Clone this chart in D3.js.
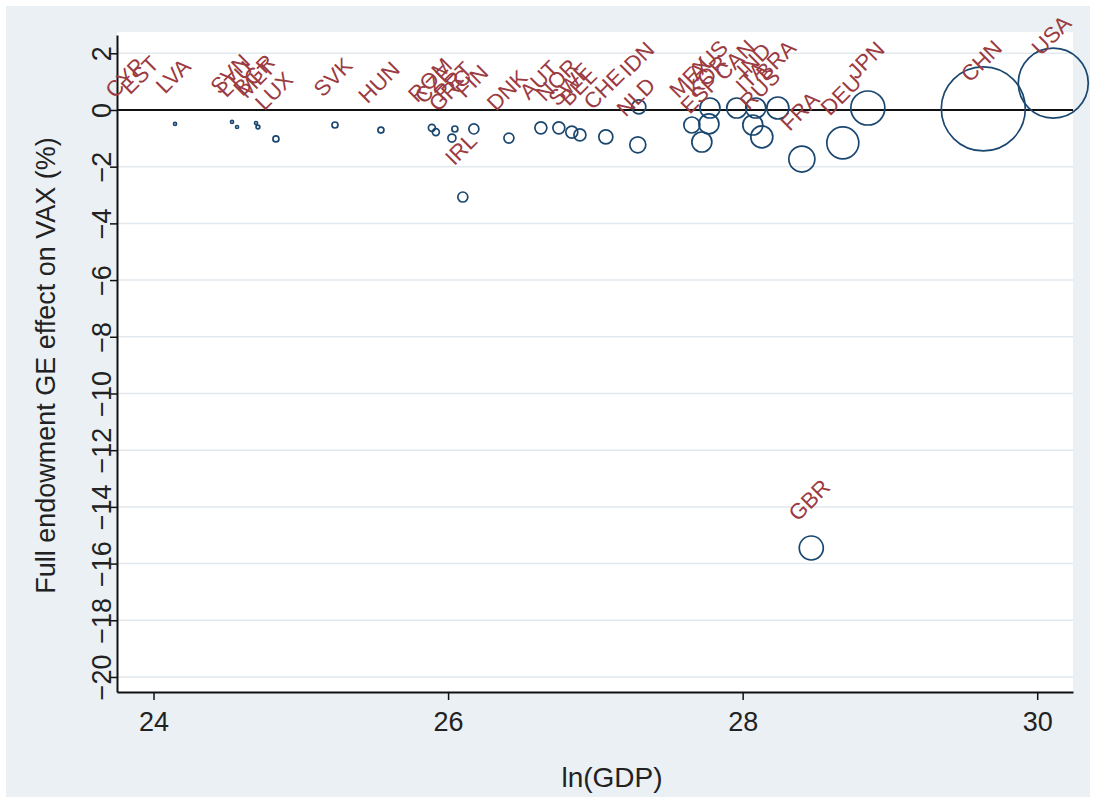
<!DOCTYPE html>
<html>
<head>
<meta charset="utf-8">
<script src="https://cdn.jsdelivr.net/npm/d3@7"></script>
<style>
  body { margin: 0; background: #fff; }
  text { font-family: Arial, "Liberation Sans", sans-serif; }
</style>
</head>
<body>
<div id="chart"></div>
<script>
// country codes, ln(GDP), GE effect on VAX (%), marker weight
var countries = ["CYP","EST","LVA","SVN","LTU","BGR","MLT","LUX","SVK","HUN","ROM","CZE","PRT","GRC","FIN","IRL","DNK",
                 "AUT","NOR","SWE","BEL","CHE","NLD","IDN","MEX","ESP","KOR","AUS","CAN","IND","ITA","RUS","BRA",
                 "FRA","GBR","DEU","JPN","CHN","USA"];
var lnGDP = [23.82,23.92,24.146,24.533,24.567,24.696,24.709,24.831,25.232,25.544,25.89,25.917,26.046,26.026,26.175,26.1,26.413,
             26.63,26.752,26.84,26.895,27.071,27.288,27.295,27.655,27.723,27.771,27.778,27.96,28.089,28.069,28.13,28.239,
             28.402,28.466,28.68,28.85,29.634,30.109];
var effect = [-0.56,-0.46,-0.49,-0.42,-0.6,-0.46,-0.6,-1.02,-0.53,-0.71,-0.63,-0.78,-0.67,-0.99,-0.67,-3.07,-0.99,
              -0.63,-0.63,-0.78,-0.88,-0.95,-1.23,0.11,-0.53,-1.13,-0.49,0.07,0.07,0.07,-0.53,-0.95,0.07,
              -1.73,-15.45,-1.16,0.07,0.04,0.95];
var weight = [0,0,0.13,0.13,0.13,0.13,0.2,0.51,0.51,0.51,0.69,0.69,0.51,0.91,1.42,1.42,1.42,
              2.04,2.04,2.04,2.04,2.78,3.63,2.78,3.63,5.67,5.67,5.67,5.67,5.67,5.67,6.86,6.86,
              9.58,8.16,14.5,16.4,100,69.4];

var xTicks = [24, 26, 28, 30];
var yTicks = [2, 0, -2, -4, -6, -8, -10, -12, -14, -16, -18, -20];

var data = countries.map((c, i) => ({name: c, x: lnGDP[i], y: effect[i], w: weight[i]}));

var width = 1096, height = 803;
var margin = ({top: 35, right: 23, bottom: 111, left: 117});

var svg = d3.select("#chart").append("svg")
    .attr("width", width)
    .attr("height", height);

var x = d3.scaleLinear()
    .domain([23.752, 30.243])
    .range([margin.left, width - margin.right]);

var y = d3.scaleLinear()
    .domain([2.645, -20.53])
    .range([margin.top, height - margin.bottom]);

var r = d3.scaleSqrt()
    .domain([0, 100])
    .range([0, 42]);

// graph region + plot region
svg.append("rect")
    .attr("x", 6).attr("y", 6)
    .attr("width", width - 12).attr("height", height - 12)
    .attr("fill", "#eaf0f3");

svg.append("rect")
    .attr("x", margin.left).attr("y", 32)
    .attr("width", width - margin.right - margin.left)
    .attr("height", height - margin.bottom - 32)
    .attr("fill", "#ffffff");

// grid lines
svg.append("g")
    .selectAll("line")
    .data(yTicks.filter(t => t !== 0))
    .join("line")
    .attr("x1", margin.left)
    .attr("x2", width - margin.right)
    .attr("y1", d => y(d))
    .attr("y2", d => y(d))
    .attr("stroke", "#e2e9ee")
    .attr("stroke-width", 1.5);

// zero line
svg.append("line")
    .attr("x1", margin.left)
    .attr("x2", width - margin.right)
    .attr("y1", y(0))
    .attr("y2", y(0))
    .attr("stroke", "#111")
    .attr("stroke-width", 2);

// weighted hollow markers
svg.append("g")
    .selectAll("circle")
    .data(data.filter(d => d.w > 0))
    .join("circle")
    .attr("cx", d => x(d.x))
    .attr("cy", d => y(d.y))
    .attr("r", d => Math.max(r(d.w), 1.2))
    .attr("fill", "none")
    .attr("stroke", "#1a476f")
    .attr("stroke-width", 1.7);

// axes
var xAxis = g => g
    .attr("transform", `translate(0,${height - margin.bottom})`)
    .call(d3.axisBottom(x).tickValues(xTicks).tickFormat(d3.format("d")).tickSize(8).tickSizeOuter(0).tickPadding(12))
    .call(g => g.select(".domain").attr("stroke", "#111").attr("stroke-width", 2))
    .call(g => g.selectAll(".tick line").attr("stroke", "#111").attr("stroke-width", 1.5))
    .call(g => g.selectAll(".tick text")
        .attr("fill", "#222")
        .style("font-size", "27px")
        .attr("dy", "0.71em"));

var yAxis = g => g
    .attr("transform", `translate(${margin.left},0)`)
    .call(d3.axisLeft(y).tickValues(yTicks).tickFormat(d3.format("d")).tickSize(7).tickSizeOuter(0))
    .call(g => g.select(".domain").attr("stroke", "#111").attr("stroke-width", 2))
    .call(g => g.selectAll(".tick line").attr("stroke", "#111").attr("stroke-width", 1.5))
    .call(g => g.selectAll(".tick text")
        .attr("fill", "#222")
        .style("font-size", "27px")
        .attr("x", null).attr("dy", null)
        .attr("text-anchor", "middle")
        .attr("transform", "translate(-6,0) rotate(-90)"));

svg.append("g").call(xAxis);
svg.append("g").call(yAxis);

// axis titles
svg.append("text")
    .attr("x", 612)
    .attr("y", 787)
    .attr("text-anchor", "middle")
    .attr("fill", "#222")
    .style("font-size", "28px")
    .text("ln(GDP)");

svg.append("text")
    .attr("transform", `translate(55,${(margin.top + height - margin.bottom) / 2 + 2}) rotate(-90)`)
    .attr("text-anchor", "middle")
    .attr("fill", "#222")
    .style("font-size", "27px")
    .text("Full endowment GE effect on VAX (%)");

// marker labels, angled
svg.append("g")
    .selectAll("text")
    .data(data)
    .join("text")
    .attr("transform", d => `translate(${x(d.x) - 2},${y(d.y) - 48}) rotate(-45)`)
    .attr("text-anchor", "middle")
    .attr("dy", "0.35em")
    .attr("fill", "#9b3b42")
    .style("font-size", "22px")
    .text(d => d.name);
</script>
</body>
</html>
